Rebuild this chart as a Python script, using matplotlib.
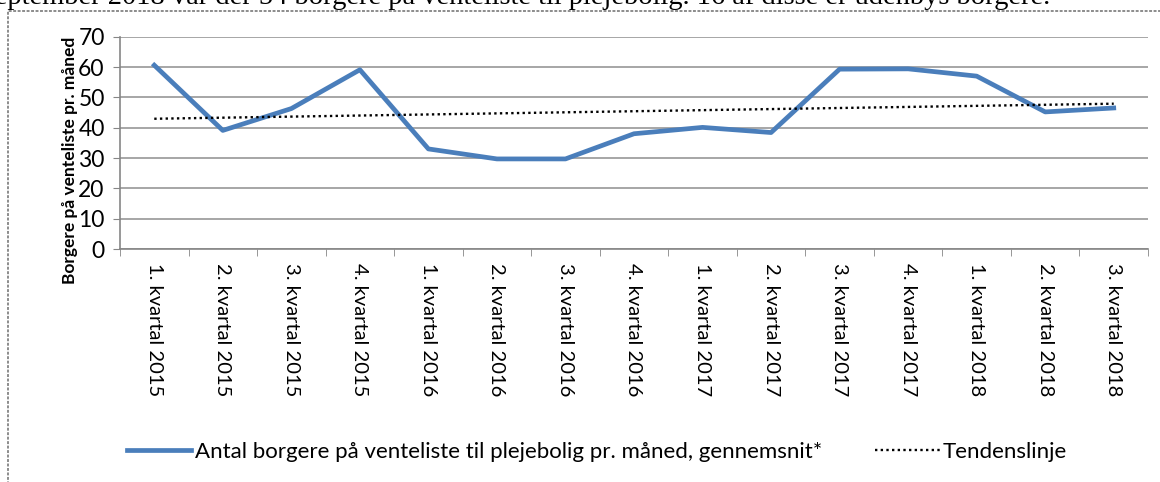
"""
Venteliste til plejebolig - kvartalsvis gennemsnit 2015-2018
"""

import matplotlib.pyplot as plt
from matplotlib.patches import Rectangle
import numpy as np

# Data
kvartaler = ['1. kvartal 2015', '2. kvartal 2015', '3. kvartal 2015', '4. kvartal 2015',
             '1. kvartal 2016', '2. kvartal 2016', '3. kvartal 2016', '4. kvartal 2016',
             '1. kvartal 2017', '2. kvartal 2017', '3. kvartal 2017', '4. kvartal 2017',
             '1. kvartal 2018', '2. kvartal 2018', '3. kvartal 2018']
borgere = [60.6, 39.1, 46.3, 59.1, 33.0, 29.7, 29.7, 38.0,
           40.1, 38.4, 59.3, 59.4, 57.0, 45.2, 46.5]
y_ticks = [0, 10, 20, 30, 40, 50, 60, 70]

serie_navn = 'Antal borgere på venteliste til plejebolig pr. måned, gennemsnit*'
trend_navn = 'Tendenslinje'
overskrift = ('September 2018 var der 54 borgere på venteliste til plejebolig. '
              '16 af disse er udenbys borgere.')

W, H = 1160, 482
plt.rcParams['font.family'] = 'Lato'

fig = plt.figure(figsize=(W / 100, H / 100), dpi=100)
ax = fig.add_axes([120 / W, 1 - 249 / H, (1148 - 120) / W, (249 - 36.7) / H])

x = np.arange(len(borgere))
# lineær tendenslinje som i Excel
k, m = np.polyfit(x, borgere, 1)

ax.plot(x, borgere, color='#4a7ebb', linewidth=3.4, solid_joinstyle='round',
        label=serie_navn, zorder=3)
ax.plot(x, k * x + m, color='black', linestyle=(0, (1, 1.4)), linewidth=1.7,
        label=trend_navn, zorder=4)

ax.set_xlim(-0.5, len(borgere) - 0.5)
ax.set_ylim(0, 70)
ax.set_yticks(y_ticks)
ax.tick_params(axis='y', labelsize=16.5, length=5, color='#868686', pad=6)

ax.set_xticks(x)
ax.set_xticklabels(kvartaler, rotation=270, fontsize=14.5)
ax.tick_params(axis='x', length=0, pad=10)
ax.set_xticks(np.arange(-0.5, len(borgere), 1), minor=True)
ax.tick_params(axis='x', which='minor', length=5, color='#868686')

ax.grid(axis='y', color='#a6a6a6', linewidth=1.4)
ax.set_axisbelow(True)
for s in ['top', 'right']:
    ax.spines[s].set_visible(False)
for s in ['left', 'bottom']:
    ax.spines[s].set_color('#868686')
    ax.spines[s].set_linewidth(1.2)

fig.text(70 / W, 1 - 160 / H, 'Borgere på venteliste pr. måned', rotation=90,
         ha='center', va='center', fontsize=12.5, fontweight='bold')

fig.legend(loc='center', bbox_to_anchor=(597 / W, 1 - 452 / H), ncol=2,
           frameon=False, fontsize=16, handlelength=2.9, columnspacing=2.4,
           handletextpad=0.15)

# ramme og afskåret tekst øverst
fig.patches.append(Rectangle((8 / W, -0.1), 1.2, 1.1 - 11 / H, transform=fig.transFigure,
                             fill=False, edgecolor='#8c8c8c', linestyle=(0, (1.5, 0.8)),
                             linewidth=1.4))
fig.text(1050 / W, 1 - 4 / H, overskrift, ha='right', va='baseline',
         family='Liberation Serif', fontsize=20.5)

fig.savefig('out.png', dpi=100)
